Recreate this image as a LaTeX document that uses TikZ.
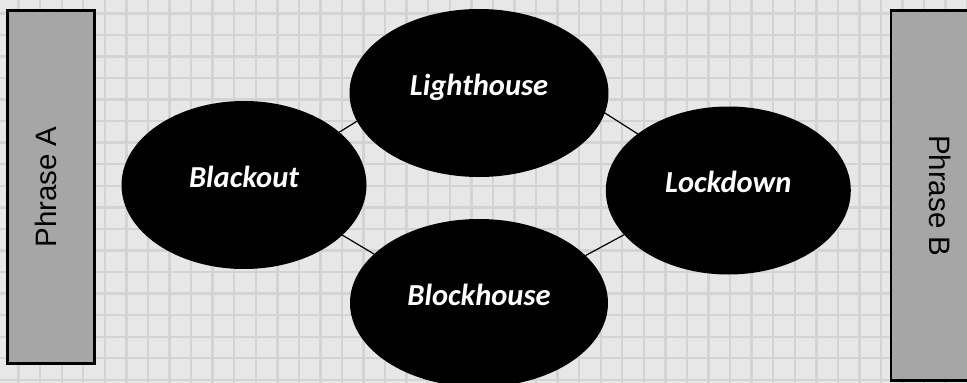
\documentclass[tikz,border=0pt]{standalone}
\usepackage{fontspec}
\setmainfont{Liberation Sans}
\newfontfamily\ovalfont{Carlito}
\usetikzlibrary{shapes.geometric}
\definecolor{paper}{HTML}{E7E7E7}
\definecolor{gridgray}{HTML}{D4D2D2}
\definecolor{phrasegray}{HTML}{A6A6A6}

\begin{document}
\begin{tikzpicture}[x=1pt,y=-1pt,
  gridline/.style={draw=gridgray,line width=2.4pt},
  word/.style={ellipse,fill=black,inner sep=0pt,outer sep=0pt,text=white,
    font=\ovalfont\bfseries\itshape\fontsize{30.5}{30.5}\selectfont,
    text height=22pt,text depth=18pt},
  phrase/.style={rectangle,draw=black,line width=2.8pt,fill=phrasegray,
    minimum height=87.3pt,inner sep=0pt,
    font=\fontsize{29.5}{29.5}\selectfont,text height=22pt,text depth=12.4pt},
  link/.style={line width=1.2pt}]
\useasboundingbox (0,0) rectangle (967,383);
\clip (0,0) rectangle (967,383);
\fill[paper] (0,0) rectangle (967,383);
\foreach \k in {-1,...,44} \draw[gridline] ({18.6+21.56*\k},0) -- ++(0,383);
\foreach \k in {-1,...,17} \draw[gridline] (0,{13.3+21.56*\k}) -- ++(967,0);

\node [phrase,rotate=90,minimum width=352.5pt] (phraseA) at (51.2,187) {Phrase A};
\node [phrase,rotate=-90,minimum width=369.7pt] (phraseB) at (934.65,195.7) {Phrase B};

\node [word,minimum width=245pt,minimum height=168pt] (blackout) at (244,185) {Blackout};
\node [word,minimum width=259pt,minimum height=168pt] (lighthouse) at (479,93) {Lighthouse};
\node [word,minimum width=245pt,minimum height=168pt] (lockdown) at (728.3,190.5) {Lockdown};
\node [word,minimum width=258pt,minimum height=168pt] (blockhouse) at (479,303) {Blockhouse};

\draw [link] (blackout.29) -- (lighthouse.193);
\draw [link] (blackout.333) -- (blockhouse.155);
\draw [link] (lighthouse.351) -- (lockdown.148);
\draw [link] (blockhouse.24) -- (lockdown.203);
\end{tikzpicture}
\end{document}
